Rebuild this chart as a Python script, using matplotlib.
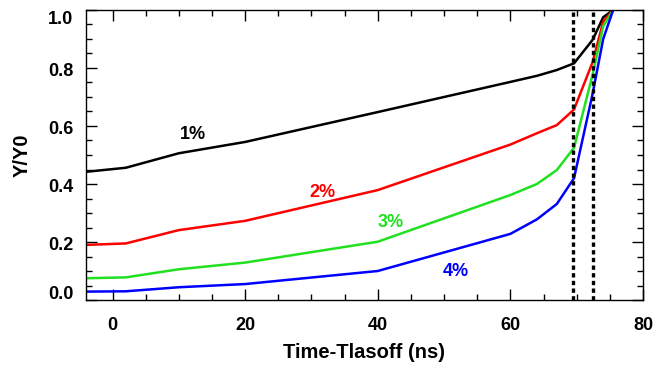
import matplotlib
matplotlib.use('Agg')
import matplotlib.pyplot as plt
import matplotlib.transforms as mtransforms
from matplotlib.ticker import MultipleLocator

plt.rcParams['font.family'] = ['Liberation Sans', 'DejaVu Sans']
plt.rcParams['font.weight'] = 'bold'

# time relative to laser switch-off (ns)
time_ns = [-4, 2, 10, 20, 40, 60, 64, 67, 69.6, 72.4, 74, 75.5]

# normalised yield Y/Y0 for each concentration
y_1pct = [0.442, 0.456, 0.506, 0.545, 0.648, 0.752, 0.773, 0.793, 0.816, 0.897, 0.975, 1.0]
y_2pct = [0.190, 0.195, 0.241, 0.273, 0.379, 0.536, 0.575, 0.603, 0.657, 0.820, 0.960, 1.0]
y_3pct = [0.075, 0.078, 0.106, 0.129, 0.201, 0.362, 0.400, 0.448, 0.525, 0.777, 0.944, 1.0]
y_4pct = [0.029, 0.030, 0.044, 0.055, 0.100, 0.228, 0.278, 0.331, 0.420, 0.711, 0.900, 1.0]

series = [
    (y_1pct, 'black', '1%', (12.1, 0.569)),
    (y_2pct, 'red', '2%', (31.7, 0.369)),
    (y_3pct, '#20e020', '3%', (41.9, 0.268)),
    (y_4pct, 'blue', '4%', (51.8, 0.098)),
]

# marker times drawn as dotted verticals
markers_ns = [69.5, 72.5]

# y tick values and their labels
ytick_vals = [0.0, 0.2, 0.4, 0.6, 0.8, 1.0]
ytick_labels = ['0.0', '0.2', '0.4', '0.6', '0.8', '1.0']

fig = plt.figure(figsize=(6.59, 3.73), dpi=100)
ax = fig.add_axes([0.1305, 0.1957, 0.8452, 0.7775])

for yv, col, lab, pos in series:
    ax.plot(time_ns, yv, color=col, lw=1.8)
    ax.text(pos[0], pos[1], lab, color=col, fontsize=13, fontweight='bold',
            ha='center', va='center')

for xm in markers_ns:
    ax.axvline(xm, color='black', lw=2.4, linestyle=(0, (1.3, 1.0)))

ax.set_xlim(-4, 80)
ax.set_ylim(0, 1.0)
ax.xaxis.set_major_locator(MultipleLocator(20))
ax.xaxis.set_minor_locator(MultipleLocator(5))
ax.set_yticks(ytick_vals)
ax.yaxis.set_minor_locator(MultipleLocator(0.05))

ax.tick_params(which='both', direction='in', top=True, right=True, width=1.0)
ax.tick_params(which='major', length=8)
ax.tick_params(which='minor', length=4)
ax.tick_params(axis='x', pad=12, labelsize=13)
ax.tick_params(axis='y', labelleft=False)
for sp in ax.spines.values():
    sp.set_linewidth(1.0)

# y labels sit a little below their ticks; the end ones stay inside the frame
ytrans = ax.get_yaxis_transform()
for val, lab in zip(ytick_vals, ytick_labels):
    if val == 0.0:
        dy = 4.3
    elif val == 1.0:
        dy = -7.2
    else:
        dy = -2.8
    tr = mtransforms.offset_copy(ytrans, fig=fig, x=-9, y=dy, units='points')
    ax.text(0, val, lab, transform=tr, ha='right', va='center',
            fontsize=13, fontweight='bold')

ax.set_xlabel('Time-Tlasoff (ns)', fontsize=14.5, fontweight='bold', labelpad=7)
ax.set_ylabel('Y/Y0', fontsize=14.5, fontweight='bold', labelpad=36)

fig.savefig('out.png', dpi=100)
